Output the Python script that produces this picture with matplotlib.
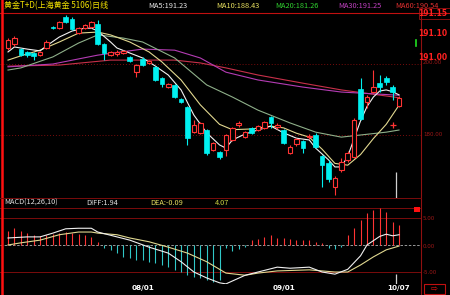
import matplotlib
matplotlib.use("Agg")
import matplotlib.pyplot as plt
import matplotlib.patches as mpatches
import numpy as np

plt.rcParams['font.family'] = ['Noto Sans CJK SC', 'DejaVu Sans']

W, H = 450, 295

# daily candles, oldest first
opens = [204.5, 205.6, 204.2, 203.4, 203.1, 202.5, 204.5, 210.4, 210.1, 213.2,
         212.7, 208.7, 210.1, 210.4, 211.3, 205.6, 202.5, 202.8, 203.1, 202.0,
         197.7, 201.4, 200.3, 199.2, 196.1, 193.5, 194.1, 190.1, 187.9, 180.8,
         180.6, 181.4, 175.8, 175.2, 175.8, 178.6, 182.8, 179.4, 182.0, 181.4,
         182.0, 185.1, 182.2, 181.4, 174.9, 177.5, 178.3, 179.4, 180.0, 174.1,
         172.1, 165.4, 170.1, 173.0, 173.8, 193.0, 189.3, 192.1, 194.6, 196.1,
         193.5, 188.2]
highs = [207.3, 207.9, 204.5, 203.7, 203.4, 203.7, 206.8, 210.7, 212.1, 213.8,
         213.2, 210.4, 211.3, 212.1, 212.4, 205.9, 203.7, 203.9, 203.9, 202.3,
         200.0, 202.0, 201.1, 199.4, 196.3, 194.6, 194.4, 190.4, 188.2, 184.2,
         183.7, 181.7, 178.0, 175.5, 180.3, 182.2, 183.9, 181.1, 182.2, 182.8,
         183.9, 185.4, 183.4, 181.7, 177.2, 179.1, 178.6, 180.3, 180.6, 174.4,
         173.0, 168.5, 173.5, 175.5, 184.8, 196.1, 191.3, 198.3, 196.9, 196.6,
         194.1, 191.0]
lows = [203.9, 205.1, 202.3, 202.0, 201.1, 202.3, 204.2, 209.9, 209.9, 211.6,
        209.6, 208.5, 209.9, 210.1, 205.4, 201.1, 202.3, 202.3, 202.8, 200.6,
        196.3, 199.4, 200.0, 195.2, 193.5, 193.2, 190.4, 189.0, 177.2, 180.6,
        180.3, 174.4, 175.5, 173.2, 174.1, 178.3, 182.2, 179.1, 180.3, 181.1,
        181.7, 182.0, 181.7, 177.5, 174.7, 176.9, 174.9, 178.9, 176.3, 165.4,
        166.8, 163.1, 169.6, 172.4, 173.5, 184.2, 187.6, 191.8, 192.1, 194.1,
        189.9, 187.9]
closes = [206.8, 207.3, 202.5, 202.5, 202.3, 203.4, 206.2, 210.1, 211.8, 211.8,
          209.9, 210.1, 211.0, 211.8, 205.6, 203.1, 203.4, 203.4, 203.7, 200.8,
          199.7, 199.7, 200.8, 195.5, 194.4, 194.4, 190.7, 189.3, 179.1, 182.8,
          183.4, 174.9, 177.7, 173.8, 180.0, 182.0, 183.4, 180.8, 180.6, 182.5,
          183.7, 183.4, 182.8, 177.7, 176.6, 178.9, 176.3, 179.7, 176.6, 171.5,
          167.6, 167.9, 172.4, 174.9, 184.2, 184.5, 190.7, 193.5, 193.5, 194.9,
          192.1, 190.4]

# moving average lines (candle index, price)
ma5_idx = [0, 1, 3, 5, 6, 8, 10, 12, 13, 14, 16, 17, 19, 21, 23, 25, 27, 29, 31, 33,
           34, 35, 37, 39, 41, 43, 45, 47, 48, 50, 51, 52, 53, 54, 55, 56, 57, 58, 59, 60, 61]
ma5_val = [203.4, 204.8, 204.2, 203.7, 205.1, 207.6, 209.3, 210.1, 210.1, 209.3,
           206.2, 204.5, 203.1, 201.7, 199.4, 196.9, 192.7, 185.6, 180.6, 177.2,
           176.3, 178.6, 180.3, 181.4, 182.5, 180.6, 179.1, 178.6, 176.3, 173.0,
           171.0, 171.0, 174.0, 179.0, 184.0, 188.0, 190.7, 192.4, 192.7, 192.2, 191.3]
ma10_idx = [0, 2, 5, 8, 11, 14, 16, 19, 22, 24, 27, 30, 33, 35, 38, 41, 43, 45, 47,
            49, 51, 53, 55, 57, 59, 61]
ma10_val = [201.1, 202.3, 203.9, 206.2, 208.7, 209.0, 208.2, 206.2, 203.4, 200.6,
            195.5, 188.5, 183.0, 181.5, 181.7, 182.5, 182.0, 180.5, 179.4, 176.0,
            172.0, 171.5, 174.5, 179.0, 183.0, 188.4]
ma20_idx = [0, 2, 7, 11, 14, 18, 21, 26, 31, 35, 39, 44, 48, 52, 55, 59, 61]
ma20_val = [198.3, 198.9, 202.0, 205.9, 208.2, 207.3, 206.2, 201.7, 194.1, 190.7,
            187.0, 183.4, 180.8, 179.4, 180.0, 180.8, 181.4]
ma30_idx = [0, 7, 14, 21, 26, 30, 34, 39, 46, 52, 61]
ma30_val = [199.2, 200.0, 202.5, 204.2, 203.9, 201.7, 197.7, 195.5, 193.5, 192.1, 191.2]
ma60_idx = [0, 8, 16, 26, 30, 34, 39, 46, 52, 61]
ma60_val = [199.4, 199.7, 201.1, 201.1, 200.3, 198.9, 196.9, 194.6, 192.7, 190.5]

# MACD(12,26,10)
macd_hist = [2.6, 3.1, 2.5, 2.3, 1.9, 1.7, 1.8, 2.0, 2.2, 2.4,
             2.3, 2.0, 1.8, 1.5, 0.5, -0.6, -0.9, -1.5, -2.2, -2.4,
             -2.8, -2.8, -3.1, -3.3, -3.7, -4.1, -4.6, -5.0, -5.6, -5.9,
             -6.1, -6.5, -6.9, -6.5, -0.6, -1.1, -0.8, -0.4, 0.9, 1.1,
             1.5, 1.9, 1.3, 1.3, 1.1, 1.0, 0.9, 0.9, 0.6, 0.4,
             -0.5, -0.7, -0.3, 1.9, 3.1, 4.6, 5.9, 6.5, 6.9, 6.1,
             4.3, 3.7]
diff_idx = [0, 3, 5, 7, 9, 11, 13, 14, 17, 19, 22, 25, 27, 29, 31, 33, 34, 37, 39,
            42, 44, 47, 49, 51, 53, 55, 56, 58, 59, 60, 61]
diff_val = [1.3, 1.5, 1.5, 2.2, 3.0, 3.1, 3.1, 2.4, 1.5, 0.9, -0.4, -1.5, -3.1, -5.0,
            -6.1, -7.0, -7.2, -5.6, -5.0, -4.1, -4.3, -4.1, -5.0, -5.4, -4.5, -2.0,
            0.0, 1.6, 2.0, 1.7, 1.9]
dea_idx = [0, 2, 5, 8, 11, 13, 14, 17, 19, 22, 25, 28, 31, 34, 37, 39, 42, 47, 51,
           53, 55, 57, 59, 61]
dea_val = [0.0, 0.4, 0.9, 1.9, 2.4, 2.4, 2.2, 1.9, 1.3, 0.6, -0.4, -1.5, -3.1, -5.2,
           -5.6, -5.2, -4.8, -4.6, -5.0, -5.0, -3.7, -2.2, -0.9, -0.2]

date_pos = [21, 43, 61]
date_labels = ["08/01", "09/01", "10/07"]

UP = "#ff3434"
DOWN = "#00f0f0"
GRID = "#7a0c0c"


def px_rect(x0, y0, x1, y1):
    return [x0 / W, 1 - y1 / H, (x1 - x0) / W, (y1 - y0) / H]


fig = plt.figure(figsize=(W / 100, H / 100), dpi=100, facecolor="black")

xlim = (-1.25, 64.43)

# ---- price panel
ax = fig.add_axes(px_rect(0, 13, 421, 198))
ax.set_facecolor("black")
ax.set_xlim(*xlim)
ax.set_ylim(162.25, 214.37)
for s in ax.spines.values():
    s.set_visible(False)
ax.set_xticks([])
ax.set_yticks([])

for lvl in (200, 180):
    ax.axhline(lvl, color=GRID, lw=0.7, ls=(0, (1, 2)), zorder=1)

for idx_, val_, col in [(ma60_idx, ma60_val, "#c8304a"),
                        (ma30_idx, ma30_val, "#b43cb4"),
                        (ma20_idx, ma20_val, "#8fb08a"),
                        (ma10_idx, ma10_val, "#e2d890"),
                        (ma5_idx, ma5_val, "#f2f2f2")]:
    ax.plot(idx_, val_, color=col, lw=0.8, zorder=2)

bw = 0.72
for i, (o, h, l, c) in enumerate(zip(opens, highs, lows, closes)):
    lo, hi = min(o, c), max(o, c)
    body = max(hi - lo, 0.2)
    if c >= o:
        ax.vlines(i, l, lo, color=UP, lw=0.8, zorder=3)
        ax.vlines(i, hi, h, color=UP, lw=0.8, zorder=3)
        ax.add_patch(mpatches.Rectangle((i - bw / 2, lo), bw, body, facecolor="black",
                                        edgecolor=UP, lw=0.8, zorder=4))
    else:
        ax.vlines(i, l, h, color=DOWN, lw=0.8, zorder=3)
        ax.add_patch(mpatches.Rectangle((i - bw / 2, lo), bw, body, facecolor=DOWN,
                                        edgecolor=DOWN, lw=0.5, zorder=4))

# signal mark and cursor
ax.plot([60], [182.8], marker="+", color=UP, ms=4, mew=0.9, zorder=5)
ax.vlines(date_pos[-1] - 0.4, 162.25, 169.5, color="#d0d0d0", lw=0.9, zorder=5)

# ---- MACD panel
am = fig.add_axes(px_rect(0, 198, 421, 284))
am.set_facecolor("black")
am.set_xlim(*xlim)
am.set_ylim(-7.22, 8.70)
for s in am.spines.values():
    s.set_visible(False)
am.set_yticks([])
for lvl in (6.85, 5.0, -5.0, -7.15):
    am.axhline(lvl, color=GRID, lw=0.7, zorder=1)
am.axhline(0, color="#b0b0b0", lw=0.6, ls=(0, (3, 2)), zorder=1)

hist_colors = [UP if v > 0 else "#30c8c8" for v in macd_hist]
am.vlines(range(len(macd_hist)), 0, macd_hist, colors=hist_colors, lw=0.8, zorder=2)
am.plot(dea_idx, dea_val, color="#e0d890", lw=0.8, zorder=3)
am.plot(diff_idx, diff_val, color="#f0f0f0", lw=0.8, zorder=3)
am.vlines(date_pos[-1] - 0.4, -7.15, -5.4, color="#d0d0d0", lw=0.9, zorder=4)

am.set_xticks(date_pos)
am.set_xticklabels(date_labels, color="white", fontsize=5.2, fontweight="bold",
                   family="DejaVu Sans")
am.tick_params(axis="x", length=0, pad=0.6)

# ---- frame, header and right scale
ov = fig.add_axes([0, 0, 1, 1], facecolor="none")
ov.set_xlim(0, W)
ov.set_ylim(H, 0)
ov.axis("off")

ov.plot([0, W], [12.5, 12.5], color="#c01010", lw=0.8)
ov.plot([1.5, 1.5], [0, H], color="#ff1010", lw=1.8)
ov.plot([421, 421], [13, H], color="#901010", lw=0.8)
ov.plot([0, 421], [198, 198], color=GRID, lw=0.7)

hdr = dict(fontsize=5.3, va="center", ha="left")
ov.text(4, 6, "黄金T+D(上海黄金 5106)日线", color="#f0e000", fontsize=5.8,
        va="center", ha="left")
ov.text(148, 6, "MA5:191.23", color="#e8e8e8", **hdr)
ov.text(216, 6, "MA10:188.43", color="#e8e060", **hdr)
ov.text(275, 6, "MA20:181.26", color="#30d030", **hdr)
ov.text(338, 6, "MA30:191.25", color="#c040c0", **hdr)
ov.text(395, 6, "MA60:190.54", color="#e03030", **hdr)

ov.text(4, 203, "MACD(12,26,10)", color="#e0e0e0", **hdr)
ov.text(86, 203, "DIFF:1.94", color="#e0e0e0", **hdr)
ov.text(150, 203, "DEA:-0.09", color="#e8e060", **hdr)
ov.text(215, 203, "4.07", color="#c8d040", **hdr)

ov.add_patch(mpatches.Rectangle((419, 8), 31, 11, facecolor="none", edgecolor="#801010", lw=0.7))
for yy, lab in [(14, "191.15"), (33, "191.10"), (57, "191.00")]:
    ov.text(447, yy, lab, color="#ff2020", fontsize=5.5, fontweight="bold", ha="right",
            va="center", family="DejaVu Sans")
ov.plot([416, 416], [40, 46], color="#20e020", lw=1.2)

small = dict(fontsize=4, color="#a01818", ha="left", va="center", family="DejaVu Sans")
ov.text(423, 63, "200.00", **small)
ov.text(423, 135, "180.00", **small)
ov.text(423, 219, "5.00", **small)
ov.text(423, 246, "0.00", **small)
ov.text(423, 272, "-5.00", **small)

ov.add_patch(mpatches.Rectangle((414, 207), 6, 5, facecolor="#ff1010", edgecolor="none"))
ov.add_patch(mpatches.Rectangle((424, 284), 21, 10, facecolor="none", edgecolor="#c01010", lw=0.8))
ov.text(434.5, 289, "⇨", color="#e01010", fontsize=6, ha="center", va="center",
        family="DejaVu Sans")

fig.savefig("out.png", dpi=100, facecolor="black")
